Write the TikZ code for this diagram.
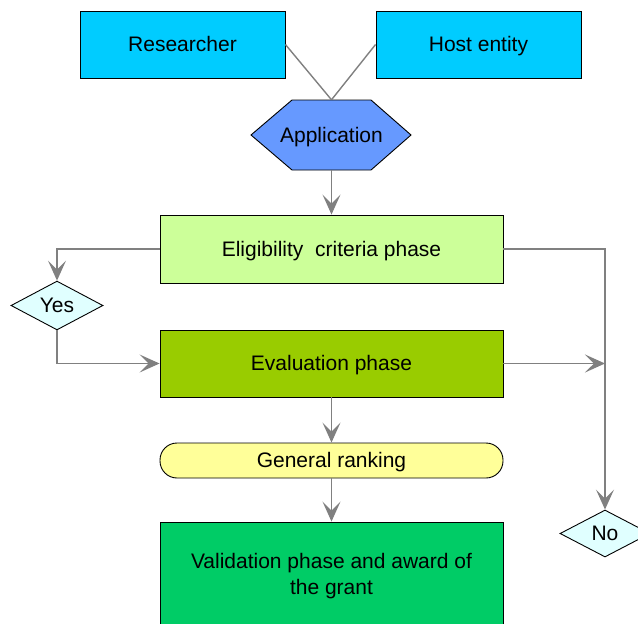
\documentclass[tikz,border=0pt]{standalone}
\usepackage{fontspec}
\setmainfont{Liberation Sans}
\usetikzlibrary{shapes.geometric,arrows.meta}

\definecolor{entitycol}{HTML}{00CCFF}
\definecolor{appcol}{HTML}{6699FF}
\definecolor{eligcol}{HTML}{CCFF99}
\definecolor{evalcol}{HTML}{99CC00}
\definecolor{rankcol}{HTML}{FFFF99}
\definecolor{validcol}{HTML}{00CC66}
\definecolor{answercol}{HTML}{E0FFFF}
\definecolor{linkcol}{HTML}{808080}

\begin{document}
\begin{tikzpicture}[x=1pt,y=-1pt,
  font=\fontsize{21}{26}\selectfont,
  oneline/.style={text height=19pt,text depth=4.5pt},
  entity/.style={rectangle,oneline,draw=black,line width=0.9pt,fill=entitycol,minimum width=205pt,minimum height=67pt},
  phase/.style={rectangle,draw=black,line width=0.9pt,minimum width=343pt,minimum height=67pt,align=center},
  rank/.style={rectangle,oneline,rounded corners=17pt,draw=black,line width=0.9pt,fill=rankcol,minimum width=343pt,minimum height=35pt},
  answer/.style={diamond,draw=black,line width=0.9pt,fill=answercol,inner sep=0pt,minimum width=92pt,minimum height=45pt},
  link/.style={draw=linkcol,line width=1.4pt},
  arrow/.style={link,-{Stealth[length=20pt,width=18pt,inset=9pt]},color=linkcol}]
\useasboundingbox (0,0) rectangle (638,624);
\def\xMid{331.5}
\def\yApp{135}
% hexagon behind the application label
\draw[fill=appcol,line width=0.9pt] (251,\yApp) -- (292,100) -- (371,100) -- (411,\yApp)
  -- (371,170) -- (292,170) -- cycle;
\path
(182.5,44.5) node [entity] (res) {Researcher}
(478.5,44.5) node [entity] (host) {Host entity}
(\xMid,\yApp) node [oneline,minimum width=159pt,minimum height=70pt] (app) {Application}
(\xMid,249) node [phase,oneline,fill=eligcol,minimum height=68pt] (elig) {Eligibility\ \ criteria phase}
(\xMid,363.5) node [phase,oneline,fill=evalcol] (eval) {Evaluation phase}
(\xMid,460.5) node [rank] (rank) {General ranking}
(\xMid,576) node [phase,fill=validcol,minimum height=108pt] (valid) {Validation phase and award of\\the grant}
(57,305.5) node [answer] (yes) {Yes}
(605,533.5) node [answer,minimum width=90pt,minimum height=47pt] (no) {No}
;

\path[link] (res.east) -- (app.north);
\path[link] (host.west) -- (app.north);
\draw[arrow] (app.south) -- (elig.north);
\draw[arrow] (elig.west) -| (yes.north);
\draw[arrow] (yes.south) |- (eval.west);
\draw[arrow] (elig.east) -| (no.north);
\draw[arrow] (eval.east) -- (eval.east -| no.north);
\draw[arrow] (eval.south) -- (rank.north);
\draw[arrow] (rank.south) -- (valid.north);
\end{tikzpicture}
\end{document}
